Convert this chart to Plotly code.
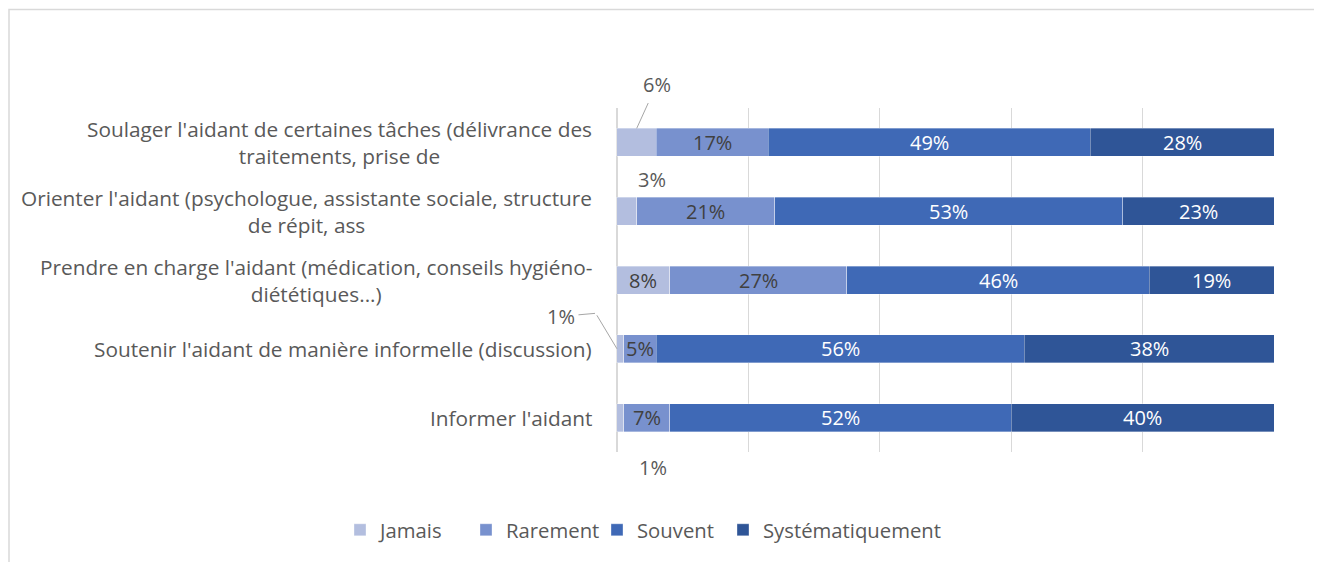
import plotly.graph_objects as go

categories = [
    "Soulager l'aidant de certaines tâches (délivrance des<br>traitements, prise de",
    "Orienter l'aidant (psychologue, assistante sociale, structure<br>de répit, ass",
    "Prendre en charge l'aidant (médication, conseils hygiéno-<br>diététiques...)",
    "Soutenir l'aidant de manière informelle (discussion)",
    "Informer l'aidant",
]
series_names = ["Jamais", "Rarement", "Souvent", "Systématiquement"]
jamais = [6, 3, 8, 1, 1]
rarement = [17, 21, 27, 5, 7]
souvent = [49, 53, 46, 56, 52]
systematiquement = [28, 23, 19, 38, 40]

colors = ["#B3BEDF", "#7891CE", "#3F69B6", "#2F5597"]
text_colors = ["#404040", "#404040", "#FFFFFF", "#FFFFFF"]
FONT = "Open Sans"
FS = 20.8      # category labels
FL = 20.3      # legend
FN = 20        # numbers
GREY = "#595959"

W, H = 1322, 562
L, R, T, B = 608, 55, 100, 118
PW, PH = W - L - R, H - T - B

all_series = [jamais, rarement, souvent, systematiquement]
legend_ids = ["legend", "legend2", "legend3", "legend4"]
legend_left_px = [332, 458, 589, 715]   # legend box left edges (figure pixels)

fig = go.Figure()
for name, vals, col, lid in zip(series_names, all_series, colors, legend_ids):
    fig.add_trace(go.Bar(
        y=categories, x=[v / 100 for v in vals], orientation="h", name=name,
        marker=dict(color=col, line=dict(color="rgba(255,255,255,0.45)", width=0.75)),
        hoverinfo="skip", legend=lid,
    ))

# inside data labels placed at segment centres
cum = [0.0] * len(categories)
for name, vals, tcol in zip(series_names, all_series, text_colors):
    for i, (cat, v) in enumerate(zip(categories, vals)):
        mid = (cum[i] + v / 2) / 100
        show = v >= 5 and not (name == "Jamais" and v < 7)
        if show:
            fig.add_annotation(x=mid, y=cat, xref="x", yref="y", text=f"{v}%", showarrow=False,
                               font=dict(family=FONT, size=FN, color=tcol))
        cum[i] += v

legend_layout = {}
for lid, lx in zip(legend_ids, legend_left_px):
    legend_layout[lid] = dict(orientation="h", x=(lx - L) / PW, xanchor="left", y=-0.227,
                              yanchor="middle", font=dict(family=FONT, size=FL, color=GREY),
                              itemwidth=30, bgcolor="rgba(0,0,0,0)")

fig.update_layout(
    barmode="stack", bargap=0.593,
    width=W, height=H, margin=dict(l=L, r=R, t=T, b=B, autoexpand=False),
    paper_bgcolor="white", plot_bgcolor="white",
    font=dict(family=FONT, size=FS, color=GREY),
    showlegend=True,
    xaxis=dict(range=[-0.0015, 1.0015], tick0=0, dtick=0.2, showgrid=True, gridcolor="#D9D9D9",
               gridwidth=1, showticklabels=False, zeroline=True, zerolinecolor="#D9D9D9",
               zerolinewidth=1.5, showline=False),
    yaxis=dict(autorange="reversed", showticklabels=False, showgrid=False, zeroline=False,
               showline=False, categoryorder="array", categoryarray=categories),
    **legend_layout,
)

# category labels (centered multi-line, right anchored)
for cat in categories:
    fig.add_annotation(x=0, xref="paper", y=cat, yref="y", text=cat, showarrow=False,
                       xanchor="right", xshift=-22, align="center",
                       font=dict(family=FONT, size=FS, color=GREY))

# small-value callouts
lc = "#A6A6A6"
# 6% (row 0)
fig.add_annotation(x=jamais[0] / 200, y=-0.2035, xref="x", yref="y", text=f"{jamais[0]}%",
                   showarrow=True, arrowhead=0, arrowwidth=1, arrowcolor=lc, ax=20, ay=-44,
                   startstandoff=4, font=dict(family=FONT, size=FN, color=GREY))
# 3% (row 1)
fig.add_annotation(x=jamais[1] / 200, y=1 - 0.2035, xref="x", yref="y", text=f"{jamais[1]}%",
                   showarrow=False, xshift=25, yshift=2, yanchor="bottom",
                   font=dict(family=FONT, size=FN, color=GREY))
# 1% (row 3) with kinked leader
fig.add_annotation(x=0, y=3, xref="x", yref="y", text="", showarrow=True, arrowhead=0,
                   arrowwidth=1, arrowcolor=lc, ax=-21, ay=-35)
fig.add_annotation(x=-21 / PW, y=2.485, xref="paper", yref="y", text=f"{jamais[3]}%",
                   showarrow=True, arrowhead=0, arrowwidth=1, arrowcolor=lc, ax=-34, ay=3,
                   startstandoff=2, font=dict(family=FONT, size=FN, color=GREY))
# 1% (row 4)
fig.add_annotation(x=jamais[4] / 200, y=4 + 0.2035, xref="x", yref="y", text=f"{jamais[4]}%",
                   showarrow=False, xshift=33, yshift=-20, yanchor="top",
                   font=dict(family=FONT, size=FN, color=GREY))

# chart border
fig.add_shape(type="rect", xref="paper", yref="paper",
              x0=(1 - L) / PW, x1=(1310 - L) / PW,
              y0=-0.5, y1=(H - B - 1.5) / PH,
              line=dict(color="#D9D9D9", width=1.5), fillcolor="rgba(0,0,0,0)", layer="below")

fig.write_html("out.html")
